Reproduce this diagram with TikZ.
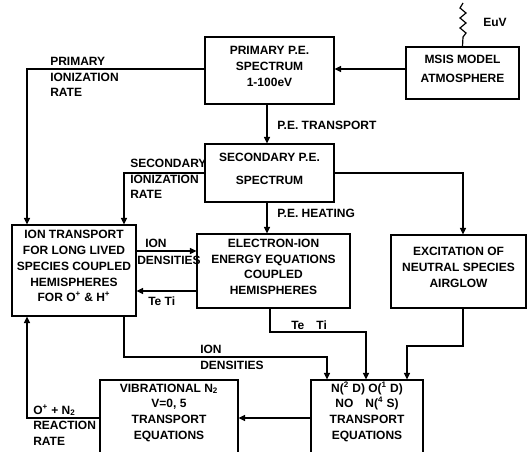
\documentclass[tikz,border=0pt]{standalone}
\usepackage{fontspec}
\setmainfont{Liberation Sans}
\usetikzlibrary{arrows.meta,fit}
\newcommand{\dgfont}{\fontsize{9}{11.8}\selectfont\bfseries}
\begin{document}
\begin{tikzpicture}[x=0.75pt,y=-0.75pt,
  box/.style={draw,line width=0.8pt,inner sep=0pt,align=center,font=\dgfont},
  lbl/.style={inner sep=0pt,align=left,anchor=west,font=\dgfont},
  conn/.style={line width=0.9pt},
  arr/.style={conn,-{Triangle[length=5pt,width=4.6pt]}}]
\path[use as bounding box,clip] (0,0) rectangle (529,452);
% helper coordinates
\coordinate (y69) at (0,69);
\coordinate (y251) at (0,251);
\coordinate (y291) at (0,291);
\coordinate (y332) at (0,332);
\coordinate (y346) at (0,346);
\coordinate (y357) at (0,357);
\coordinate (y418) at (0,418);
\coordinate (x27) at (27,0);
\coordinate (x124) at (124,0);
\coordinate (x267) at (267,0);
\coordinate (x270) at (270,0);
\coordinate (x327) at (327,0);
\coordinate (x366) at (366,0);
\coordinate (x407) at (407,0);
\coordinate (x463) at (463,0);
% boxes
\node[box,fit={(205,37) (334,104)}] (prim) {PRIMARY P.E.\\SPECTRUM\\1-100eV};
\node[box,fit={(406,47) (519,99)}] (msis) {MSIS MODEL\\[2pt]ATMOSPHERE};
\node[box,fit={(205,144) (334,202)}] (sec) {SECONDARY P.E.\\[6pt]SPECTRUM};
\node[box,fit={(12,225) (136,316)}] (ion) {ION TRANSPORT\\FOR LONG LIVED\\SPECIES COUPLED\\HEMISPHERES\\FOR O\textsuperscript{+} \& H\textsuperscript{+}};
\node[box,fit={(197,234) (350,308)}] (elec) {ELECTRON-ION\\ENERGY EQUATIONS\\COUPLED\\HEMISPHERES};
\node[box,fit={(391,235) (526,308)}] (exc) {EXCITATION OF\\NEUTRAL SPECIES\\AIRGLOW};
\node[box,fit={(100,380) (238,454)}] (vib) {VIBRATIONAL N\textsubscript{2}\\V=0, 5\\TRANSPORT\\EQUATIONS};
\node[box,fit={(311,380) (423,454)}] (nbox) {N(\textsuperscript{2} D) O(\textsuperscript{1} D)\\NO\quad N(\textsuperscript{4} S)\\TRANSPORT\\EQUATIONS};
% labels
\node[lbl] (lprim) at (50,77) {PRIMARY\\IONIZATION\\RATE};
\node[lbl] (lsec) at (130,179) {SECONDARY\\IONIZATION\\RATE};
\node[lbl] (ltrans) at (277,125) {P.E. TRANSPORT};
\node[lbl] (lheat) at (277,213) {P.E. HEATING};
\node[lbl] (leuv) at (483,22) {EuV};
\node[lbl] (lion1) at (145,243) {ION};
\node[lbl] (lden1) at (137,260) {DENSITIES};
\node[lbl] (ltt1) at (148,301) {Te Ti};
\node[lbl] (ltt2) at (291,325) {Te\quad Ti};
\node[lbl] (lion2) at (200,357.5) {ION\\DENSITIES};
\node[lbl] (lreac) at (33,425) {O\textsuperscript{+} + N\textsubscript{2}\\REACTION\\RATE};
% connectors
\coordinate (euvtop) at (463,3);
\draw[conn] (euvtop) -- (460,8) -- (466,13) -- (460,18) -- (466,23) -- (460,28) -- (466,33) -- (463,37) -- (msis.north);
\draw[arr] (msis.west |- y69) -- (prim.east |- y69);
\draw[arr] (prim.west |- y69) -| (x27 |- ion.north);
\draw[arr] (x267 |- prim.south) -- (x267 |- sec.north);
\draw[arr] (sec.west) -| (x124 |- ion.north);
\draw[arr] (x267 |- sec.south) -- (x267 |- elec.north);
\draw[arr] (sec.east) -| (x463 |- exc.north);
\draw[arr] (ion.east |- y251) -- (elec.west |- y251);
\draw[arr] (elec.west |- y291) -- (ion.east |- y291);
\draw[arr] (x270 |- elec.south) -- (x270 |- y332) -| (x366 |- nbox.north);
\draw[arr] (x463 |- exc.south) -- (x463 |- y346) -| (x407 |- nbox.north);
\draw[arr] (x124 |- ion.south) -- (x124 |- y357) -| (x327 |- nbox.north);
\draw[arr] (nbox.west |- y418) -- (vib.east |- y418);
\draw[arr] (vib.west |- y418) -| (x27 |- ion.south);
\end{tikzpicture}
\end{document}
